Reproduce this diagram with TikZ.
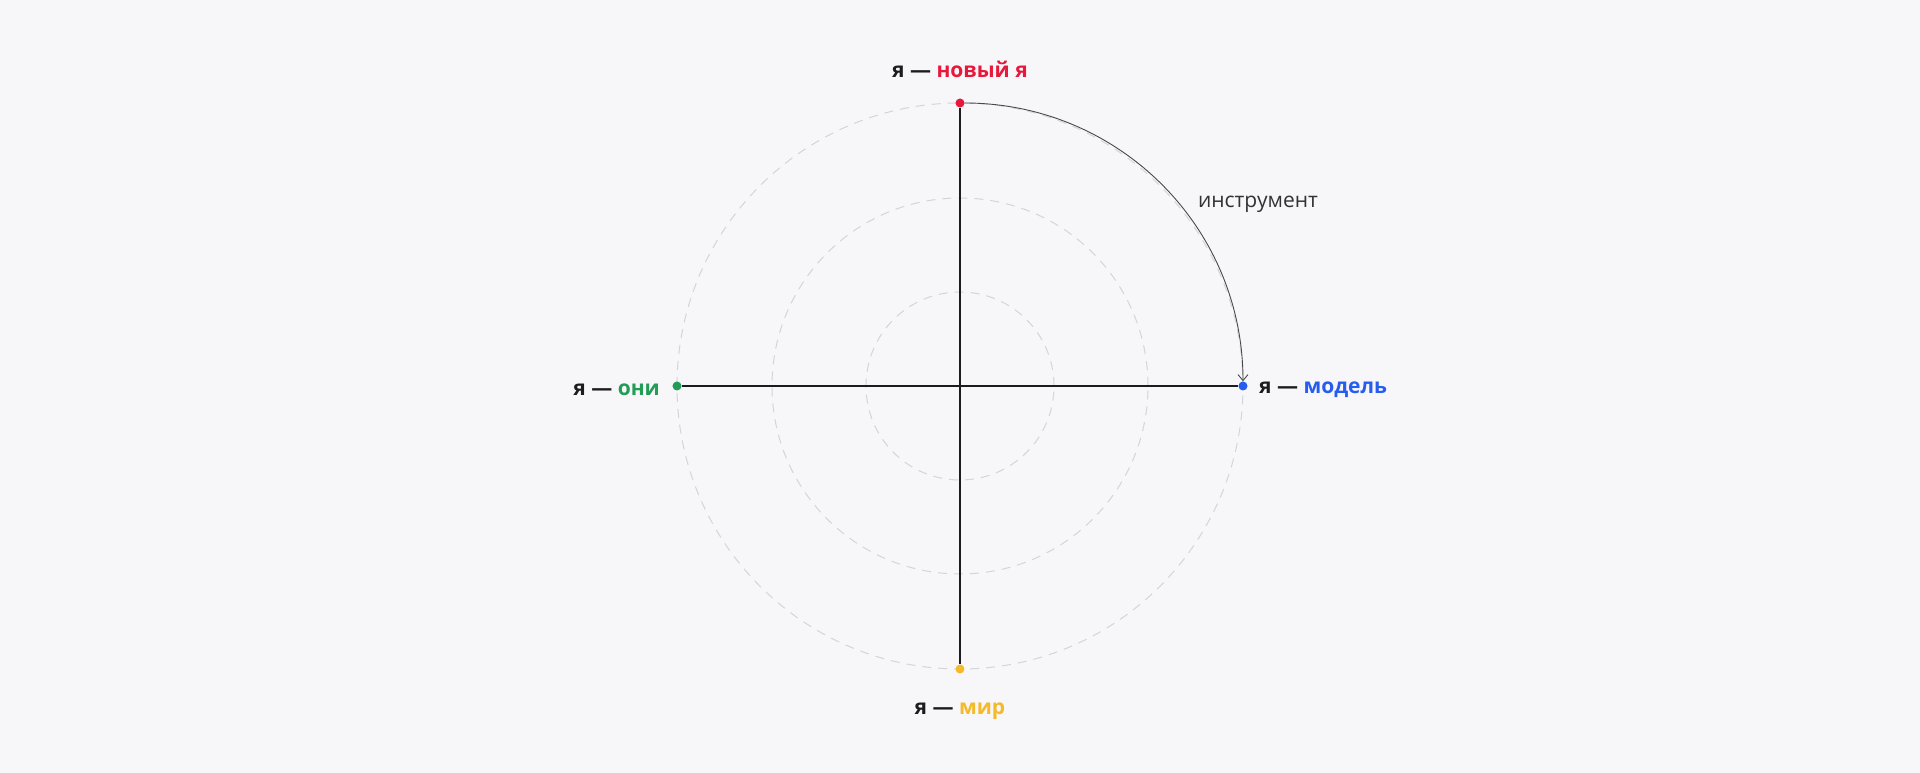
\documentclass[tikz,border=0pt]{standalone}
\usepackage{fontspec}
\setmainfont{Open Sans}
\usetikzlibrary{arrows.meta}
\definecolor{bgcol}{RGB}{247,247,249}
\definecolor{ringgrey}{RGB}{212,212,218}
\definecolor{darktext}{RGB}{28,28,30}
\definecolor{nred}{RGB}{232,24,60}
\definecolor{nblue}{RGB}{38,92,240}
\definecolor{ngreen}{RGB}{34,156,86}
\definecolor{nyellow}{RGB}{244,186,44}
\begin{document}
\begin{tikzpicture}[x=1pt,y=1pt,inner sep=0pt,
    dot/.style={circle,fill=#1,minimum size=9pt},
    ring/.style={draw=ringgrey,line width=1pt,dash pattern=on 9pt off 7pt},
    axis/.style={draw=darktext,line width=2pt},
    lbl/.style={font=\fontsize{21}{26}\selectfont\bfseries,text=darktext}]
        \fill[bgcol] (-960,-387) rectangle (960,386);
        \foreach \r in {94,188,283} {
                \draw [ring] (0,0) circle (\r);
        }

        \node[dot=nred] (top) at (0,283){};
        \node[dot=nblue] (model) at (283,0){};
        \node[dot=ngreen] (oni) at (-283,0){};
        \node[dot=nyellow] (mir) at (0,-283){};

        \draw [axis] (oni) -- (model);
        \draw [axis] (top) -- (mir);
        \draw [draw=darktext!80, line width=0.9pt, -{Straight Barb[length=6pt,width=10pt]}]
            (top.east) to[out=0,in=90] (model.north);

        \node[lbl] (ltop) at (0,317){я — \textcolor{nred}{новый я}};
        \node[lbl,anchor=west] (lmodel) at (299,-4){я — \textcolor{nblue}{модель}};
        \node[lbl,anchor=east] (loni) at (-300,-4){я — \textcolor{ngreen}{они}};
        \node[lbl] (lmir) at (0,-325){я — \textcolor{nyellow}{мир}};
        \node[font=\fontsize{21}{26}\selectfont,text=darktext!90] (tool) at (298,182){инструмент};
\end{tikzpicture}
\end{document}
